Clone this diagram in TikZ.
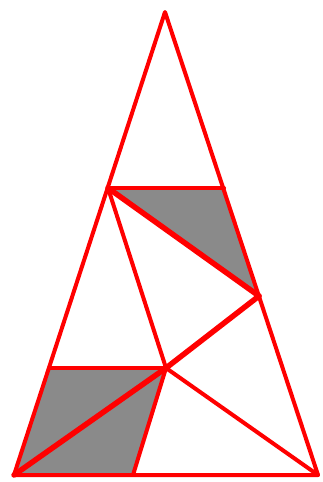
\documentclass[tikz,border=0pt]{standalone}
\definecolor{patchgray}{RGB}{138,138,138}
\begin{document}
\begin{tikzpicture}[x=1pt, y=-1pt, line join=round, line cap=round,
        edge/.style={draw=red, line width=4pt},
        heavy/.style={edge, line width=5.5pt},
        patch/.style={fill=patchgray}]
      \useasboundingbox (0,0) rectangle (323,482);
      \coordinate (apex)  at (165,12);
      \coordinate (left)  at (14,475);
      \coordinate (right) at (318,475);
      \coordinate (dl)    at (108,188);
      \coordinate (dr)    at (224,188);
      \coordinate (mr)    at (259,296);
      \coordinate (mid)   at (166,368);
      \coordinate (ml)    at (49,368);
      \coordinate (foot)  at (133,475);
      \fill[patch] (dl) -- (dr) -- (mr) -- cycle;
      \fill[patch] (ml) -- (mid) -- (foot) -- (left) -- cycle;
      \draw[edge] (apex) -- (left) -- (right) -- cycle;
      \draw[edge] (dl) -- (dr);
      \draw[edge] (ml) -- (mid);
      \draw[edge] (dl) -- (mid);
      \draw[edge] (mid) -- (foot);
      \draw[edge] (mid) -- (right);
      \draw[heavy] (dl) -- (mr);
      \draw[heavy] (mid) -- (mr);
      \draw[heavy] (left) -- (mid);
    \end{tikzpicture}
\end{document}
